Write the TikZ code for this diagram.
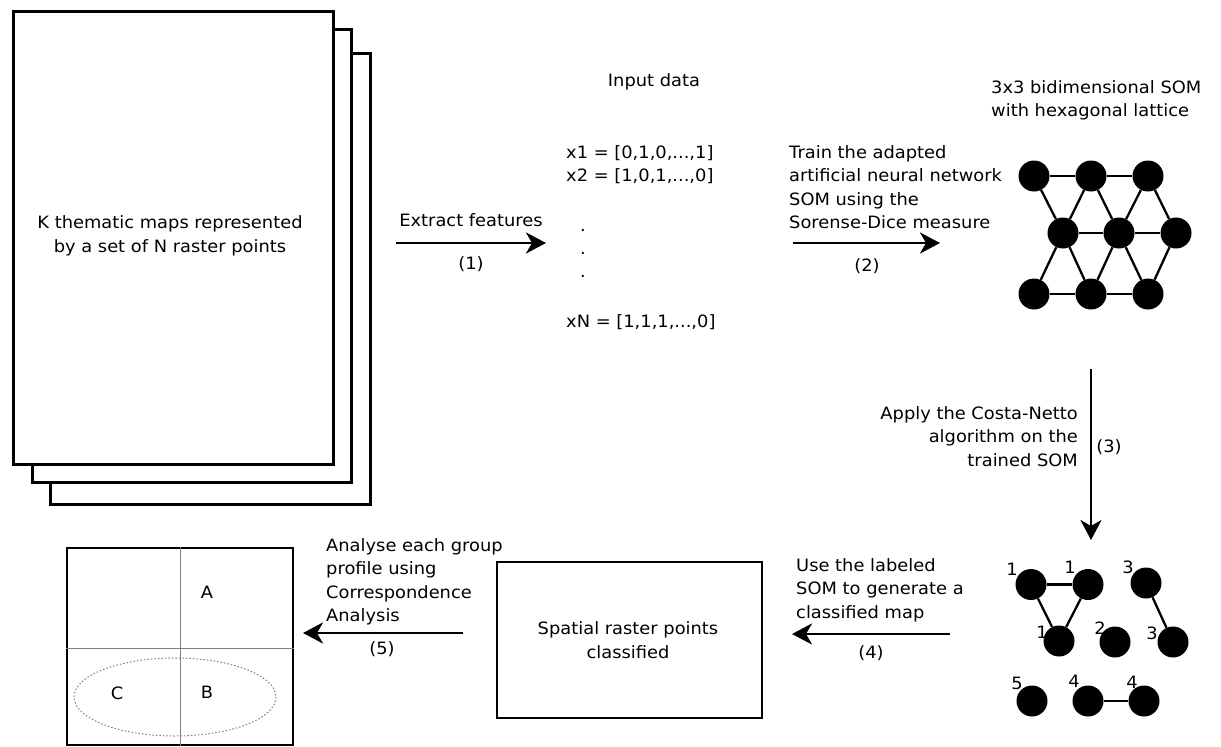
\documentclass[tikz,border=0pt]{standalone}
\usepackage{fontspec}
\setmainfont{DejaVu Sans}[FakeStretch=1.05]
\usetikzlibrary{arrows.meta}
\begin{document}
\begin{tikzpicture}[x=1pt,y=-1pt,
  lbl/.style={font=\fontsize{17}{23.5}\selectfont, inner sep=0pt},
  box/.style={draw, line width=2.6pt, fill=white, inner sep=0pt},
  flow/.style={line width=2.6pt, -{Stealth[length=20pt,width=21pt,inset=6pt]}},
  neuron/.style={circle, fill=black, minimum size=31pt, inner sep=0pt},
  link/.style={line width=2.3pt},
  axisline/.style={line width=1pt, draw=black!50},
  ]
\useasboundingbox (0,0) rectangle (1221,747);

% stacked thematic maps
\node[box, minimum width=320pt, minimum height=451pt, anchor=north west] (page3) at (49,52) {};
\node[box, minimum width=319pt, minimum height=453pt, anchor=north west] (page2) at (31,28) {};
\node[box, minimum width=320pt, minimum height=453pt, anchor=north west] (page1) at (12,10) {};
\node[lbl, align=center] (maps) at (170,236) {K thematic maps represented\\ by a set of N raster points};

% step 1
\coordinate (a1s) at (396,243);
\coordinate (a1e) at (546,243);
\draw[flow] (a1s) -- (a1e);
\node[lbl, anchor=base] (t1) at (471,226) {Extract features};
\node[lbl, anchor=base] (n1) at (471,269) {(1)};

% input data
\node[lbl, anchor=base] (inhdr) at (654,86) {Input data};
\node[lbl, anchor=base west] (x1) at (566,158) {x1 = [0,1,0,...,1]};
\node[lbl, anchor=base west] (x2) at (566,181) {x2 = [1,0,1,...,0]};
\node[lbl, anchor=base west] (d1) at (580,231) {.};
\node[lbl, anchor=base west] (d2) at (580,254) {.};
\node[lbl, anchor=base west] (d3) at (580,277) {.};
\node[lbl, anchor=base west] (xN) at (566,327) {xN = [1,1,1,...,0]};

% step 2
\coordinate (a2s) at (793,243);
\coordinate (a2e) at (940,243);
\draw[flow] (a2s) -- (a2e);
\node[lbl, align=left, anchor=north west] (t2) at (789,145) {Train the adapted\\artificial neural network\\SOM using the\\Sorense-Dice measure};
\node[lbl, anchor=base] (n2) at (867,271) {(2)};

% SOM lattice
\node[lbl, align=left, anchor=north west] (somt) at (991,80) {3x3 bidimensional SOM\\with hexagonal lattice};
\node[neuron] (s11) at (1034,176) {};
\node[neuron] (s12) at (1091,176) {};
\node[neuron] (s13) at (1148,176) {};
\node[neuron] (s21) at (1063,233) {};
\node[neuron] (s22) at (1119,233) {};
\node[neuron] (s23) at (1176,233) {};
\node[neuron] (s31) at (1034,294) {};
\node[neuron] (s32) at (1091,294) {};
\node[neuron] (s33) at (1148,294) {};
\draw[link] (s11) -- (s12); \draw[link] (s12) -- (s13);
\draw[link] (s21) -- (s22); \draw[link] (s22) -- (s23);
\draw[link] (s31) -- (s32); \draw[link] (s32) -- (s33);
\draw[link] (s11) -- (s21);
\draw[link] (s12) -- (s21); \draw[link] (s12) -- (s22);
\draw[link] (s13) -- (s22); \draw[link] (s13) -- (s23);
\draw[link] (s21) -- (s31); \draw[link] (s21) -- (s32);
\draw[link] (s22) -- (s32); \draw[link] (s22) -- (s33);
\draw[link] (s23) -- (s33);

% step 3
\coordinate (a3s) at (1091,369);
\coordinate (a3e) at (1091,540);
\draw[flow] (a3s) -- (a3e);
\node[lbl, align=right, anchor=north east] (t3) at (1078,406) {Apply the Costa-Netto\\algorithm on the\\trained SOM};
\node[lbl, anchor=base] (n3) at (1109,452) {(3)};

% labelled SOM
\node[lbl] (l1a) at (1012,569) {1};
\node[lbl] (l1b) at (1070,567) {1};
\node[lbl] (l3a) at (1128,567) {3};
\node[lbl] (l1c) at (1042,632) {1};
\node[lbl] (l2)  at (1100,628) {2};
\node[lbl] (l3b) at (1152,633) {3};
\node[lbl] (l5)  at (1017,683) {5};
\node[lbl] (l4a) at (1074,681) {4};
\node[lbl] (l4b) at (1132,682) {4};
\node[neuron] (c1a) at (1031,584.5) {};
\node[neuron] (c1b) at (1088,584.5) {};
\node[neuron] (c3a) at (1146,583) {};
\node[neuron] (c1c) at (1059,641) {};
\node[neuron] (c2)  at (1115,642) {};
\node[neuron] (c3b) at (1173,642) {};
\node[neuron] (c5)  at (1032,701) {};
\node[neuron] (c4a) at (1088,701) {};
\node[neuron] (c4b) at (1144,701) {};
\draw[link] (c1a) -- (c1b);
\draw[link] (c1a) -- (c1c);
\draw[link] (c1b) -- (c1c);
\draw[link] (c3a) -- (c3b);
\draw[link] (c4a) -- (c4b);

% step 4
\coordinate (a4s) at (950,634);
\coordinate (a4e) at (792,634);
\draw[flow] (a4s) -- (a4e);
\node[lbl, align=left, anchor=north west] (t4) at (796,558) {Use the labeled\\SOM to generate a\\classified map};
\node[lbl, anchor=base] (n4) at (871,658) {(4)};

% classified raster
\node[box, minimum width=265pt, minimum height=156pt] (cls) at (629.5,640) {};
\node[lbl, align=center] (clst) at (628,640) {Spatial raster points\\classified};

% step 5
\coordinate (a5s) at (463,633);
\coordinate (a5e) at (303,633);
\draw[flow] (a5s) -- (a5e);
\node[lbl, align=left, anchor=north west] (t5) at (326,538) {Analyse each group\\profile using\\Correspondence\\Analysis};
\node[lbl, anchor=base] (n5) at (382,654) {(5)};

% correspondence analysis plot
\node[box, minimum width=226pt, minimum height=197pt] (ca) at (180,646.5) {};
\draw[axisline] (ca.north) -- (ca.south);
\draw[axisline] ([yshift=-1.5pt]ca.west) -- ([yshift=-1.5pt]ca.east);
\draw[line width=1pt, draw=black!50, dash pattern=on 1.5pt off 2pt] (175,697) ellipse [x radius=101, y radius=39];
\node[lbl] (qa) at (207,592) {A};
\node[lbl] (qc) at (117,693) {C};
\node[lbl] (qb) at (207,692) {B};
\end{tikzpicture}
\end{document}
